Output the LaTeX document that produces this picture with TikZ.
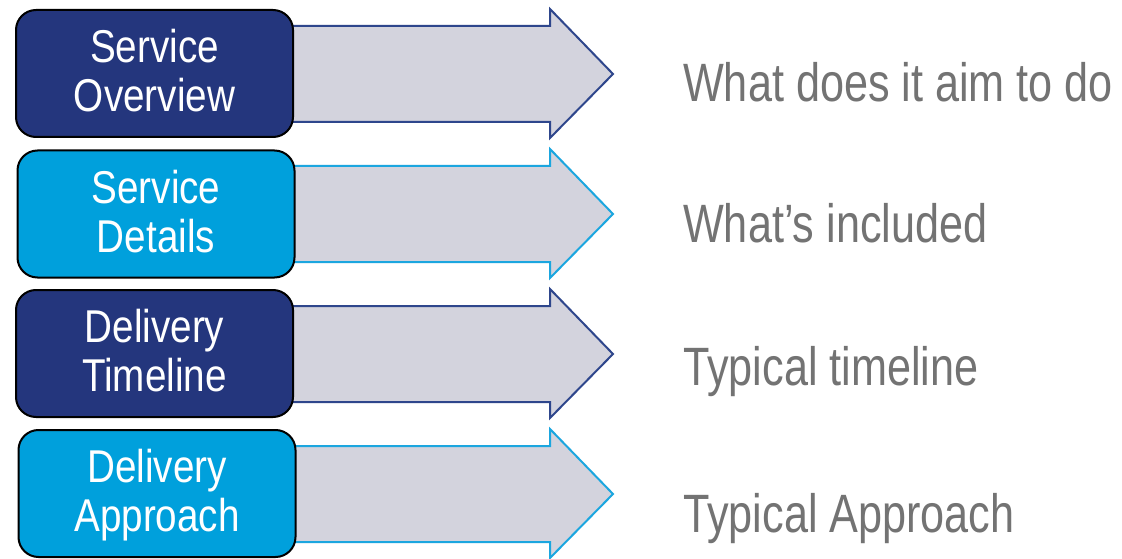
\documentclass[tikz,border=0pt]{standalone}
\usepackage{fontspec}
\setmainfont{Liberation Sans}
\newfontfamily\narrowfont[FakeStretch=0.8]{Liberation Sans}
\newfontfamily\boxfont[FakeStretch=0.84]{Liberation Sans}
\definecolor{navy}{RGB}{36,54,125}
\definecolor{navyline}{RGB}{46,70,140}
\definecolor{skyblue}{RGB}{0,160,220}
\definecolor{skyline}{RGB}{27,166,223}
\definecolor{arrowfill}{RGB}{211,211,221}
\definecolor{txtgray}{RGB}{115,115,115}
\tikzset{
  arrowshape/.style={fill=arrowfill, line width=2pt, line join=miter},
  boxshape/.style={draw=black, line width=2pt, rounded corners=20pt, minimum width=277pt, minimum height=127pt, inner sep=0pt},
  boxtext/.style={text=white, align=center, inner sep=0pt, font=\boxfont\fontsize{46}{49}\selectfont},
  sidetext/.style={text=txtgray, anchor=base west, inner sep=0pt, font=\narrowfont\fontsize{54}{60}\selectfont}
}
\begin{document}
\begin{tikzpicture}[x=1pt,y=-1pt]
\useasboundingbox[fill=white] (0,0) rectangle (1122,559);
% arrows
\foreach \dy/\col in {0/navyline,140/skyline,280/navyline,420/skyline}{
  \draw[arrowshape, draw=\col] (280,26+\dy) -- (550,26+\dy) -- (550,9+\dy) -- (613,74+\dy) -- (550,138+\dy) -- (550,122+\dy) -- (280,122+\dy) -- cycle;
}
% boxes
\node[boxshape, fill=navy] (b1) at (154.5,73.5) {};
\node[boxshape, fill=skyblue] (b2) at (156,214) {};
\node[boxshape, fill=navy] (b3) at (154.5,353.5) {};
\node[boxshape, fill=skyblue] (b4) at (157,493.5) {};
\node[boxtext] (t1) at ([yshift=-2pt]b1.center) {Service\\Overview\vphantom{p}};
\node[boxtext] (t2) at ([yshift=-2pt]b2.center) {Service\\Details\vphantom{p}};
\node[boxtext] (t3) at ([yshift=-2pt]b3.center) {Delivery\\Timeline\vphantom{p}};
\node[boxtext] (t4) at ([yshift=-2pt]b4.center) {Delivery\\Approach\vphantom{p}};
% side texts
\node[sidetext] (s1) at (683,102) {What does it aim to do};
\node[sidetext] (s2) at (683,242) {What’s included};
\node[sidetext] (s3) at (683,385) {Typical timeline};
\node[sidetext] (s4) at (683,532) {Typical Approach};
\end{tikzpicture}
\end{document}
